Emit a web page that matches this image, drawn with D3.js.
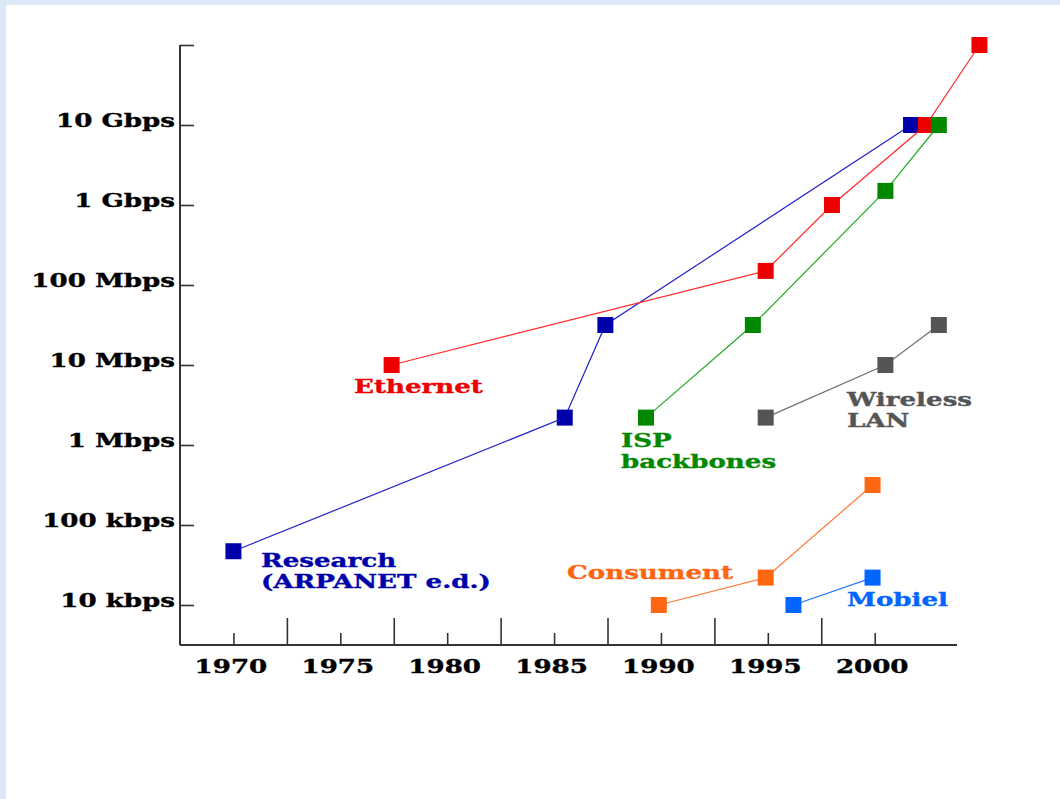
<!DOCTYPE html>
<html><head><meta charset="utf-8">
<script src="https://cdn.jsdelivr.net/npm/d3@7"></script>
<style>
html,body{margin:0;padding:0;background:#dbe9f6;}
svg{display:block;}
</style></head>
<body>
<svg id="chart" width="1060" height="799"></svg>
<script>
// ---------- data ----------
const yearTicks = [1970,1972.5,1975,1977.5,1980,1982.5,1985,1987.5,1990,1992.5,1995,1997.5,2000];
const yearLabels = [1970,1975,1980,1985,1990,1995,2000];
const rateTicks = [1e4,1e5,1e6,1e7,1e8,1e9,1e10,1e11];
const rateTickLabels = ["10 kbps","100 kbps","1 Mbps","10 Mbps","100 Mbps","1 Gbps","10 Gbps",""];

const researchYears   = [1970, 1985.5, 1987.4, 2001.7];
const researchValues  = [4.7e4, 2.2e6, 3.16e7, 1e10];
const ethernetYears   = [1977.4, 1994.9, 1998.0, 2002.4, 2004.9];
const ethernetValues  = [1e7, 1.5e8, 1e9, 1e10, 1e11];
const ispYears        = [1989.3, 1994.3, 2000.5, 2003.0];
const ispValues       = [2.2e6, 3.16e7, 1.5e9, 1e10];
const wirelessYears   = [1994.9, 2000.5, 2003.0];
const wirelessValues  = [2.2e6, 1e7, 3.16e7];
const consumerYears   = [1989.9, 1994.9, 1999.9];
const consumerValues  = [1e4, 2.2e4, 3.16e5];
const mobileYears     = [1996.2, 1999.9];
const mobileValues    = [1e4, 2.2e4];

const seriesNames  = ["Research","Ethernet","ISP backbones","Wireless LAN","Consument","Mobiel"];
const seriesYears  = [researchYears, ethernetYears, ispYears, wirelessYears, consumerYears, mobileYears];
const seriesValues = [researchValues, ethernetValues, ispValues, wirelessValues, consumerValues, mobileValues];

// ---------- styles / layout ----------
const colors = ["#0000aa","#ee0000","#008800","#555555","#ff6611","#0066ff"];
const lineColors = ["#2222cc","#ff2a2a","#22aa22","#707070","#ff7733","#2277ff"];
const labelLines = [["Research","(ARPANET e.d.)"],["Ethernet"],["ISP","backbones"],["Wireless","LAN"],["Consument"],["Mobiel"]];
const labelPos = [[261,567],[354,393],[621,447],[847,406],[567,579],[847,606]];
const lineGap = 21;
const FONT = "'DejaVu Serif', serif";
const STRETCH = 1.45;

const svg = d3.select("#chart");
// white page area
svg.append("rect").attr("x",6).attr("y",5).attr("width",1054).attr("height",794).attr("fill","#ffffff");

const x = d3.scaleLinear().domain([1967.5, 2003.85]).range([180, 957]);
const y = d3.scaleLog().domain([1e4, 1e11]).range([605, 45]);

function stretch(sel){
  sel.each(function(){
    const w = this.getComputedTextLength();
    d3.select(this).attr("textLength", w*STRETCH).attr("lengthAdjust","spacingAndGlyphs");
  });
}
function heavy(sel, c){
  sel.attr("stroke", c).attr("stroke-width", 0.35);
}

// Y axis
const yAxis = d3.axisLeft(y).tickValues(rateTicks)
  .tickFormat((d,i)=>rateTickLabels[i]).tickSizeInner(-14).tickSizeOuter(0).tickPadding(5);
const gy = svg.append("g").attr("transform","translate(180,0)").call(yAxis);
gy.select(".domain").remove();
gy.selectAll(".tick line").attr("stroke","#333").attr("stroke-width",1.6);
gy.selectAll(".tick text").attr("font-family",FONT).attr("font-weight","bold")
  .attr("font-size",18).attr("fill","#000").attr("dy","0.11em").call(stretch).call(heavy,"#000");

// X axis
const xAxis = d3.axisBottom(x).tickValues(yearTicks)
  .tickFormat(d=> yearLabels.includes(d) ? String(d) : "")
  .tickSizeInner(-12).tickSizeOuter(0).tickPadding(15);
const gx = svg.append("g").attr("transform","translate(0,645)").call(xAxis);
gx.select(".domain").remove();
gx.selectAll(".tick line").attr("stroke","#333").attr("stroke-width",1.6)
  .attr("y2", d => yearLabels.includes(d) ? -12 : -27);
gx.selectAll(".tick text").attr("font-family",FONT).attr("font-weight","bold")
  .attr("font-size",18).attr("fill","#000").attr("dx",-3).call(stretch).call(heavy,"#000");

// axis lines
svg.append("line").attr("x1",180).attr("x2",180).attr("y1",y(1e11)).attr("y2",645)
  .attr("stroke","#333").attr("stroke-width",2);
svg.append("line").attr("x1",180).attr("x2",957).attr("y1",645).attr("y2",645)
  .attr("stroke","#333").attr("stroke-width",2);

// series
const line = d3.line().x(d=>x(d[0])).y(d=>y(d[1]));
const S = 16;
seriesNames.forEach((name,i)=>{
  const pts = seriesYears[i].map((yr,j)=>[yr, seriesValues[i][j]]);
  const g = svg.append("g").attr("class","series");
  g.append("path").datum(pts).attr("d",line).attr("fill","none")
    .attr("stroke",lineColors[i]).attr("stroke-width",1.2);
  g.selectAll("rect").data(pts).join("rect")
    .attr("x",d=>x(d[0])-S/2).attr("y",d=>y(d[1])-S/2)
    .attr("width",S).attr("height",S).attr("fill",colors[i]);
});

// labels
labelLines.forEach((lines,i)=>{
  lines.forEach((t,k)=>{
    svg.append("text").attr("x",labelPos[i][0]).attr("y",labelPos[i][1]+k*lineGap)
      .attr("font-family",FONT).attr("font-weight","bold").attr("font-size",18)
      .attr("fill",colors[i]).text(t).call(stretch).call(heavy,colors[i]);
  });
});
</script>
</body></html>
